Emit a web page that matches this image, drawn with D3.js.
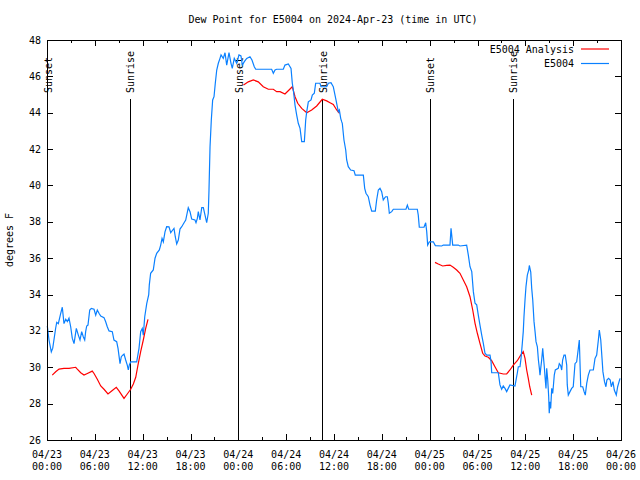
<!DOCTYPE html>
<html><head><meta charset="utf-8">
<script src="https://cdn.jsdelivr.net/npm/d3@7"></script>
<style>body{margin:0;background:#fff}svg text{font-family:"DejaVu Sans Mono",monospace;font-size:10px;fill:#000}</style>
</head><body><svg id="c" width="640" height="480"></svg>
<script>
// hours since 2024-04-23 00:00 UTC
const obsHours = [0.04,0.25,0.54,0.72,1.09,1.22,1.42,1.72,1.92,2.13,2.35,2.55,2.76,2.97,3.17,3.39,3.68,3.93,4.14,4.35,4.55,4.73,4.85,4.98,5.14,5.36,5.56,5.9,6.11,6.31,6.52,6.74,7.15,7.36,7.56,7.78,8.19,8.4,8.74,8.91,9.16,9.32,9.5,9.66,9.87,10.07,10.2,10.32,10.5,11.25,11.54,11.75,11.95,12.08,12.26,12.51,12.76,12.83,13.0,13.33,13.55,13.76,14.09,14.26,14.43,14.59,14.8,15.01,15.3,15.52,15.77,15.93,16.09,16.27,16.47,16.68,16.9,17.1,17.4,17.72,17.94,18.15,18.56,18.69,18.86,18.98,19.19,19.41,19.61,19.82,20.03,20.23,20.32,20.45,20.61,20.78,20.95,21.11,21.29,21.49,21.7,21.83,22.11,22.33,22.54,22.83,23.08,23.24,23.49,23.8,24.08,24.33,24.5,24.75,25.05,25.46,25.71,26.0,26.18,28.18,28.39,28.6,28.81,29.64,29.85,30.27,30.61,30.77,30.9,31.11,31.32,31.52,31.74,31.95,32.28,32.45,32.58,32.78,33.12,33.28,33.53,33.7,34.24,34.37,35.08,35.29,35.62,35.91,36.21,36.54,36.67,36.84,36.96,37.04,37.25,37.47,37.59,37.79,38.09,38.51,38.67,39.68,39.85,40.01,40.3,40.52,40.73,41.18,41.35,41.56,41.77,41.98,42.18,42.31,42.48,42.69,42.81,42.94,43.24,43.44,45.03,45.2,45.37,46.45,46.57,46.7,47.29,47.5,47.63,47.75,47.96,48.46,48.71,49.51,49.71,50.55,50.68,50.89,51.59,51.8,52.64,52.85,53.06,53.28,53.48,53.69,53.9,54.1,54.31,54.53,54.73,54.94,55.15,55.57,55.7,55.78,56.61,56.82,57.03,57.23,57.45,57.66,57.86,58.07,58.7,58.91,58.99,59.12,59.33,59.46,59.62,59.74,59.83,59.96,60.08,60.25,60.43,60.5,60.68,60.8,60.93,61.09,61.22,61.34,61.51,61.64,61.76,61.84,61.93,62.05,62.18,62.25,62.38,62.47,62.59,62.68,62.81,62.93,63.0,63.09,63.18,63.31,63.43,63.51,63.63,63.76,64.13,64.26,64.43,64.56,64.68,64.85,65.01,65.19,65.26,65.39,65.6,65.81,66.01,66.23,66.44,66.65,66.77,66.95,67.2,67.37,67.52,67.7,67.9,68.11,68.53,68.74,68.95,69.16,69.28,69.46,69.62,69.73,69.93,70.11,70.23,70.44,70.65,70.78,70.99,71.16,71.41,71.58,71.76,71.88];
const obsValues = [32.27,31.5,30.85,31.05,32.16,32.47,32.4,32.97,33.3,32.4,32.64,32.51,32.7,32.23,31.6,31.3,32.14,31.77,31.5,31.96,31.68,31.5,31.96,32.27,32.32,33.15,33.24,33.19,32.87,33.15,32.97,32.82,32.73,32.5,32.23,32.0,31.96,31.5,31.41,31.04,30.2,30.58,30.67,30.73,30.4,30.12,29.85,30.12,30.3,30.3,31.04,31.96,32.14,31.77,32.78,33.5,34.0,34.52,35.17,35.35,36.0,36.27,36.45,36.72,37.09,36.9,37.45,37.73,37.72,37.4,37.55,37.64,37.18,36.78,37.0,37.6,37.73,37.88,38.1,38.78,38.56,38.15,38.1,37.95,38.19,38.56,38.1,38.78,38.78,38.37,37.95,38.47,39.75,42.13,43.6,44.7,44.88,45.62,46.35,46.72,46.99,47.18,46.99,47.3,46.62,47.3,46.72,46.44,46.99,46.72,47.18,47.12,46.62,46.81,46.99,47.08,46.9,46.53,46.39,46.39,46.17,46.35,46.39,46.39,46.62,46.68,46.44,45.62,45.25,44.42,43.87,43.42,43.14,42.41,42.41,43.6,44.06,44.6,44.7,44.97,45.07,45.62,45.62,45.43,45.43,45.62,45.65,45.43,44.79,44.06,44.15,43.69,43.51,43.42,42.5,41.95,41.4,41.03,40.85,40.81,40.57,40.57,39.84,39.57,39.38,38.92,38.59,38.59,39.2,39.75,39.84,39.66,39.2,39.29,39.38,39.38,39.02,38.47,38.56,38.69,38.69,38.92,38.69,38.69,38.37,37.7,37.7,37.95,37.46,36.72,36.9,36.9,36.69,36.67,36.72,36.72,37.64,36.72,36.72,36.67,36.72,36.17,35.53,35.26,34.16,33.52,33.43,32.87,32.32,31.77,31.31,30.77,30.67,30.67,30.31,29.7,29.7,29.03,28.79,28.97,28.84,28.66,28.84,29.03,28.97,29.48,29.67,30.03,30.03,30.49,31.31,31.96,32.78,33.7,34.43,35.07,35.35,35.6,35.23,34.34,33.7,32.51,31.96,31.41,31.13,30.4,29.94,29.57,29.94,30.4,31.04,30.67,30.03,29.48,28.84,29.94,29.3,28.38,27.47,28.1,27.74,28.84,28.56,28.93,29.57,29.85,29.94,30.2,30.1,29.85,30.4,30.67,30.67,30.12,29.03,28.47,28.66,28.84,28.93,30.2,30.3,31.04,31.5,28.93,28.93,28.66,28.47,29.11,29.57,29.85,29.85,30.49,30.67,31.5,32.05,31.5,30.49,29.76,29.21,28.93,29.3,29.39,29.3,28.93,29.21,28.75,28.47,28.93,29.21,29.39];
// analysis series, null marks a gap
const anaHours = [0.66,1.09,1.51,2.13,2.76,3.6,3.8,4.23,4.64,5.06,5.68,5.9,6.31,6.74,7.15,7.65,8.19,8.69,9.03,9.66,10.07,10.5,10.83,11.13,11.41,11.75,12.08,12.38,12.67,null,
 24.65,25.25,25.88,26.5,27.13,27.76,28.39,28.81,29.23,29.85,30.36,30.77,31.11,31.45,31.95,32.58,33.2,33.83,34.53,35.08,35.5,35.91,36.34,36.69,null,
 48.67,49.08,49.63,50.14,50.55,50.96,51.39,51.8,52.22,52.64,53.06,53.4,53.69,53.98,54.31,54.65,54.94,55.36,55.78,56.19,56.61,57.24,57.66,58.07,58.49,58.99,59.42,59.74,59.96,60.17,60.37,60.55,60.8];
const anaValues = [29.57,29.75,29.9,29.94,29.94,30.0,29.9,29.7,29.57,29.66,29.79,29.66,29.34,28.97,28.79,28.53,28.72,28.9,28.7,28.29,28.53,28.79,29.08,29.45,30.12,30.86,31.5,32.14,32.64,null,
 45.52,45.7,45.8,45.7,45.43,45.29,45.29,45.16,45.16,45.03,45.25,45.43,44.88,44.52,44.24,44.0,44.15,44.37,44.74,44.65,44.55,44.45,44.15,43.96,null,
 35.77,35.68,35.57,35.6,35.62,35.5,35.35,35.17,34.8,34.43,33.88,33.15,32.42,31.87,31.31,30.77,30.62,30.55,30.36,30.03,29.7,29.63,29.63,29.85,30.12,30.36,30.67,30.86,30.49,29.85,29.39,28.93,28.47];
const sunHours = [0.0,10.41,23.96,34.5,48.04,58.45];
const sunLabels = ["Sunset","Sunrise","Sunset","Sunrise","Sunset","Sunrise"];
const yTicks = [26,28,30,32,34,36,38,40,42,44,46,48];
const xTickHours = [0,6,12,18,24,30,36,42,48,54,60,66,72];
const xTickDates = ["04/23","04/23","04/23","04/23","04/24","04/24","04/24","04/24","04/25","04/25","04/25","04/25","04/26"];
const xTickTimes = ["00:00","06:00","12:00","18:00","00:00","06:00","12:00","18:00","00:00","06:00","12:00","18:00","00:00"];
const seriesNames = ["E5004 Analysis","E5004"];
const seriesColors = ["#ff0000","#0a80ff"];

const svg = d3.select("#c");
const L=47,R=621,T=40,B=440;
const x = d3.scaleLinear().domain([0,72]).range([L,R]);
const y = d3.scaleLinear().domain([26,48]).range([B,T]);
const px = v => Math.round(v)+0.5;

svg.append("text").attr("x",333).attr("y",23).attr("text-anchor","middle").text("Dew Point for E5004 on 2024-Apr-23 (time in UTC)");
svg.append("text").attr("transform","translate(13,240) rotate(-90)").attr("text-anchor","middle").text("degrees F");

// ticks
const minor = d3.range(0,73,3);
const tg = svg.append("g").attr("stroke","#000").attr("shape-rendering","crispEdges");
minor.forEach(h=>{
  const len = h%6===0?6:3;
  tg.append("line").attr("x1",px(x(h))).attr("x2",px(x(h))).attr("y1",B).attr("y2",B-len);
  tg.append("line").attr("x1",px(x(h))).attr("x2",px(x(h))).attr("y1",T).attr("y2",T+len);
});
yTicks.forEach(v=>{
  tg.append("line").attr("x1",L).attr("x2",L+6).attr("y1",px(y(v))).attr("y2",px(y(v)));
  tg.append("line").attr("x1",R).attr("x2",R-6).attr("y1",px(y(v))).attr("y2",px(y(v)));
});
svg.append("g").selectAll("text").data(yTicks).join("text")
  .attr("x",L-6).attr("y",d=>y(d)).attr("dy","0.35em").attr("text-anchor","end").text(d=>d);
const xl = svg.append("g").selectAll("g").data(xTickHours).join("g");
xl.append("text").attr("x",d=>x(d)).attr("y",B+18).attr("text-anchor","middle").text((d,i)=>xTickDates[i]);
xl.append("text").attr("x",d=>x(d)).attr("y",B+30).attr("text-anchor","middle").text((d,i)=>xTickTimes[i]);

// sun lines
const sg = svg.append("g");
sunHours.forEach((h,i)=>{
  sg.append("line").attr("x1",px(x(h))).attr("x2",px(x(h))).attr("y1",99).attr("y2",B)
    .attr("stroke","#000").attr("stroke-width",1).attr("shape-rendering","crispEdges");
  sg.append("text").attr("transform",`translate(${x(h)+1},93) rotate(-90)`).attr("dy","0.35em").text(sunLabels[i]);
});

// series
const line = d3.line().defined(d=>d[1]!==null).x(d=>x(d[0])).y(d=>y(d[1]));
svg.append("path").datum(anaHours.map((h,i)=>[h,anaValues[i]]))
  .attr("d",line).attr("fill","none").attr("stroke",seriesColors[0]).attr("stroke-width",1.2);
svg.append("path").datum(obsHours.map((h,i)=>[h,obsValues[i]]))
  .attr("d",line).attr("fill","none").attr("stroke",seriesColors[1]).attr("stroke-width",1.2);

// frame
svg.append("rect").attr("x",L+0.5).attr("y",T+0.5).attr("width",R-L).attr("height",B-T)
  .attr("fill","none").attr("stroke","#000").attr("shape-rendering","crispEdges");

// legend
seriesNames.forEach((n,i)=>{
  const ly = 49+i*14.5;
  svg.append("text").attr("x",574).attr("y",ly).attr("dy","0.35em").attr("text-anchor","end").text(n);
  svg.append("line").attr("x1",581).attr("x2",609).attr("y1",ly).attr("y2",ly)
    .attr("stroke",seriesColors[i]).attr("stroke-width",1.2);
});
</script></body></html>
